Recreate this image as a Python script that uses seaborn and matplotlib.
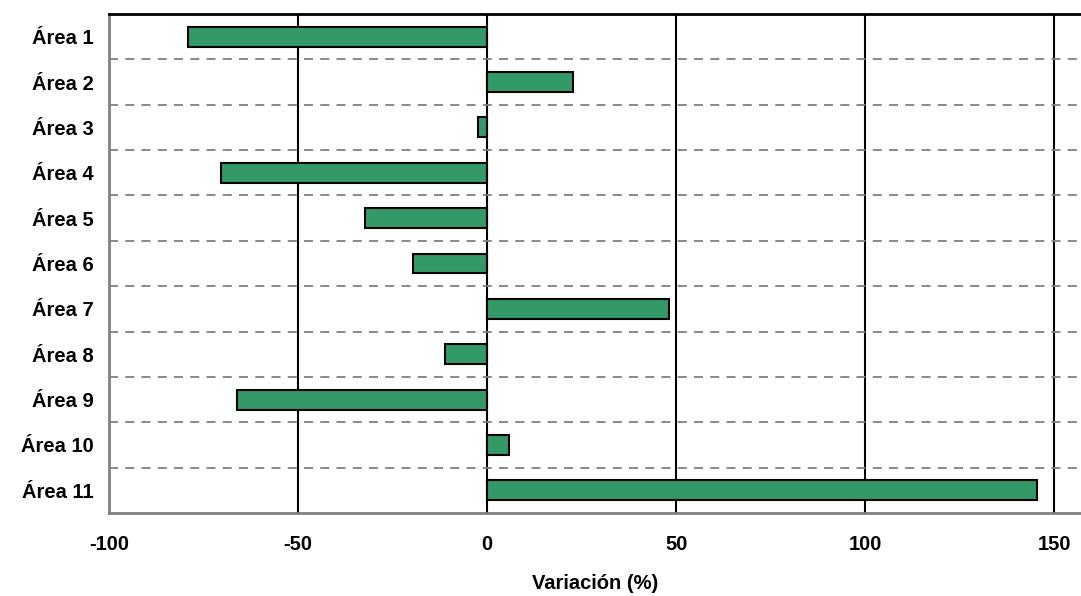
import matplotlib
matplotlib.use("Agg")
import matplotlib.pyplot as plt
import seaborn as sns
import pandas as pd
from matplotlib.ticker import FixedLocator

categories = ["Área 1", "Área 2", "Área 3", "Área 4", "Área 5", "Área 6",
              "Área 7", "Área 8", "Área 9", "Área 10", "Área 11"]
values = [-79, 22.8, -2.4, -70.4, -32.3, -19.6, 48.1, -11.1, -66.1, 5.8, 145.5]
xticks = [-100, -50, 0, 50, 100, 150]
xlabel = "Variación (%)"

df = pd.DataFrame({"area": categories, "var": values})

sns.set_theme(style="white")
plt.rcParams["font.family"] = ["Liberation Sans", "DejaVu Sans"]
plt.rcParams["text.color"] = "black"
plt.rcParams["xtick.color"] = "black"
plt.rcParams["ytick.color"] = "black"
plt.rcParams["axes.labelcolor"] = "black"

fig = plt.figure(figsize=(10.81, 5.96), dpi=100)
ax = fig.add_axes([109/1081, 1-513/596, 1-109/1081, (513-14)/596])

sns.barplot(data=df, x="var", y="area", orient="h", color="#339966",
            saturation=1, edgecolor="black", linewidth=1.5, width=0.44, ax=ax)

ax.set_xlim(-100, 157.1)
ax.set_ylim(10.5, -0.5)
ax.set_xticks(xticks)
ax.set_xticklabels([str(t) for t in xticks], fontsize=14.5, fontweight="bold")
ax.tick_params(axis="x", pad=16, length=0)
ax.tick_params(axis="y", length=0, pad=11)
for lab in ax.get_yticklabels():
    lab.set_fontsize(14.5)
    lab.set_fontweight("bold")
ax.set_ylabel("")
ax.set_xlabel(xlabel, fontsize=14.5, fontweight="bold", labelpad=14)

# vertical grid lines (solid black) except at -100
for t in xticks[1:]:
    ax.axvline(t, color="black", lw=1.5, zorder=0.5)
# horizontal dashed separators
ax.yaxis.set_minor_locator(FixedLocator([i + 0.5 for i in range(len(categories) - 1)]))
ax.grid(which="minor", axis="y", color="#808080", linestyle=(0, (5, 4)), lw=1.3)
ax.set_axisbelow(True)

ax.spines["top"].set_color("black")
ax.spines["top"].set_linewidth(2)
ax.spines["right"].set_visible(False)
ax.spines["left"].set_color("#808080")
ax.spines["left"].set_linewidth(2)
ax.spines["bottom"].set_color("#808080")
ax.spines["bottom"].set_linewidth(2)

fig.savefig("out.png", dpi=100)
